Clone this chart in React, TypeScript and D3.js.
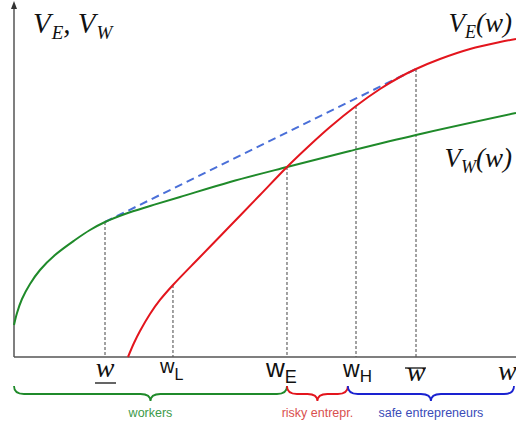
import React from 'react';
import * as d3 from 'd3';

// curve values (x: 0..100 along the axis, y: 0..100 up the axis)
const workerX = [0, 0.6, 1.59, 3.19, 5.18, 8.17, 12.15, 15.14, 18.13, 22.11, 27.09, 33.07, 43.03, 54.38, 66.93, 80.08, 100];
const workerY = [9.14, 12.57, 16.57, 20.86, 24.86, 29.14, 33.43, 36.29, 38.57, 40.86, 43.14, 45.71, 50.0, 54.29, 58.86, 63.43, 69.71];

const entrepX = [22.71, 23.9, 25.1, 27.09, 29.08, 31.67, 37.05, 43.03, 49.0, 54.38, 58.96, 62.95, 68.13, 72.91, 76.89, 80.08, 84.86, 90.84, 96.81, 100];
const entrepY = [0, 4.0, 7.43, 12.29, 16.29, 20.57, 28.57, 37.43, 46.29, 54.29, 60.57, 65.71, 71.71, 76.57, 80.0, 82.29, 85.14, 88.0, 90.0, 90.86];

// chord from w-underline to w-bar
const chordX = [18.13, 80.08];
const chordY = [38.57, 82.29];

// thresholds on the w axis and the curve height each dotted line reaches
const markX = [18.13, 31.67, 54.38, 68.13, 80.08];
const markTop = [38.57, 20.57, 54.29, 71.71, 82.29];

// brace groups under the axis
const groupNames = ['workers', 'risky entrepr.', 'safe entrepreneurs'];
const groupFrom = [0, 54.38, 66.5];
const groupTo = [54.38, 66.5, 99.6];
const groupStroke = ['#1f8a2a', '#e3151d', '#1a22d0'];
const groupText = ['#3d9a4a', '#d9504e', '#3a4cb8'];

const W = 516;
const H = 427;

function brace(x1: number, x2: number, top: number, mid: number, tip: number) {
  const xm = (x1 + x2) / 2;
  const q = Math.min(10, (x2 - x1) / 6);
  return `M${x1},${top} Q${x1},${mid} ${x1 + q},${mid} L${xm - q},${mid} Q${xm},${mid} ${xm},${tip} Q${xm},${mid} ${xm + q},${mid} L${x2 - q},${mid} Q${x2},${mid} ${x2},${top}`;
}

export default function App() {
  const x = d3.scaleLinear().domain([0, 100]).range([14, 516]);
  const y = d3.scaleLinear().domain([0, 100]).range([357, 7]);

  const line = d3.line<[number, number]>()
    .x(d => x(d[0]))
    .y(d => y(d[1]))
    .curve(d3.curveCatmullRom.alpha(0.5));

  const green = line(workerX.map((v, i) => [v, workerY[i]]) as [number, number][]) || '';
  const red = line(entrepX.map((v, i) => [v, entrepY[i]]) as [number, number][]) || '';
  const chord = d3.line<[number, number]>().x(d => x(d[0])).y(d => y(d[1]))(
    chordX.map((v, i) => [v, chordY[i]]) as [number, number][]
  ) || '';

  const serif = '"Liberation Serif", "DejaVu Serif", serif';
  const sans = '"Liberation Sans", Arial, sans-serif';

  return (
    <svg width={W} height={H} style={{ position: 'absolute', left: 0, top: 0, background: '#fff' }}>
      {/* dotted guides */}
      {markX.map((m, i) => (
        <line key={i} x1={x(m)} x2={x(m)} y1={y(markTop[i])} y2={y(0)}
          stroke="#444" strokeWidth={1} strokeDasharray="3,2" />
      ))}

      {/* axes */}
      <line x1={x(0)} x2={W} y1={y(0)} y2={y(0)} stroke="#555" strokeWidth={1.5} />
      <line x1={x(0)} x2={x(0)} y1={y(0)} y2={6} stroke="#555" strokeWidth={1.5} />
      <path d={`M${x(0) - 3},${9} L${x(0)},${1} L${x(0) + 3},${9} Z`} fill="#333" />

      {/* curves */}
      <path d={chord} fill="none" stroke="#4a6fd8" strokeWidth={2} strokeDasharray="8,5" />
      <path d={green} fill="none" stroke="#1f8a2a" strokeWidth={2} />
      <path d={red} fill="none" stroke="#e3151d" strokeWidth={2} />

      {/* curve labels */}
      <text x={33} y={33} fontFamily={serif} fontStyle="italic" fontSize={29} fill="#111">
        V<tspan fontSize={19} dy={6} dx={1}>E</tspan><tspan dy={-6}>, V</tspan><tspan fontSize={19} dy={6} dx={1}>W</tspan>
      </text>
      <text x={512} y={32} textAnchor="end" fontFamily={serif} fontStyle="italic" fontSize={27} fill="#111">
        V<tspan fontSize={18} dy={6}>E</tspan><tspan dy={-6}>(w)</tspan>
      </text>
      <text x={512} y={167} textAnchor="end" fontFamily={serif} fontStyle="italic" fontSize={27} fill="#111">
        V<tspan fontSize={18} dy={6}>W</tspan><tspan dy={-6}>(w)</tspan>
      </text>

      {/* axis labels */}
      <text x={x(markX[0])} y={377} textAnchor="middle" fontFamily={serif} fontStyle="italic" fontSize={28} fill="#111">w</text>
      <line x1={x(markX[0]) - 10} x2={x(markX[0]) + 11} y1={383} y2={383} stroke="#111" strokeWidth={1.3} />

      <text x={160} y={373} fontFamily={sans} fontSize={20} fill="#111">
        w<tspan fontSize={16} dy={7}>L</tspan>
      </text>
      <text x={266} y={377} fontFamily={sans} fontSize={26} fill="#111">
        w<tspan fontSize={18} dy={6}>E</tspan>
      </text>
      <text x={343} y={377} fontFamily={sans} fontSize={23} fill="#111">
        w<tspan fontSize={17} dy={5}>H</tspan>
      </text>

      <text x={x(markX[4])} y={381} textAnchor="middle" fontFamily={serif} fontStyle="italic" fontSize={28} fill="#111">w</text>
      <line x1={x(markX[4]) - 11} x2={x(markX[4]) + 10} y1={368} y2={368} stroke="#111" strokeWidth={1.3} />

      <text x={498} y={380} fontFamily={serif} fontStyle="italic" fontSize={28} fill="#111">w</text>

      {/* braces */}
      {groupNames.map((g, i) => {
        const x1 = x(groupFrom[i]);
        const x2 = x(groupTo[i]);
        return (
          <g key={g}>
            <path d={brace(x1, x2, 386, 394, 401)} fill="none" stroke={groupStroke[i]} strokeWidth={1.8} />
            <text x={(x1 + x2) / 2} y={417} textAnchor="middle" fontFamily={sans} fontSize={12.5} fill={groupText[i]}>{g}</text>
          </g>
        );
      })}
    </svg>
  );
}
